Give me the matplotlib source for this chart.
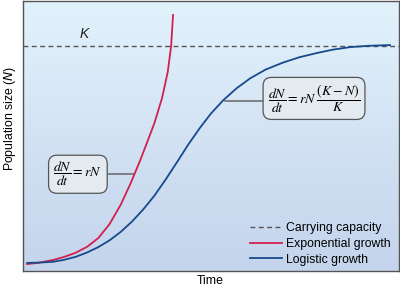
import numpy as np
import matplotlib
matplotlib.use('Agg')
from matplotlib import pyplot as plt
from matplotlib.colors import LinearSegmentedColormap

# values (time 0-100, population 0-120, K = 100)
K = 100
exp_t = [1.1, 4, 8, 11, 14, 17, 20, 23, 26, 28.5, 31, 33.2, 35, 37, 38.5, 39.4, 39.9]
exp_n = [3.1, 3.6, 4.9, 6.3, 8.1, 10.7, 14.6, 20.8, 29.5, 38.5, 48.5, 58.0, 66.0, 77.0, 88.5, 100.0, 113.8]

log_t = [1.1, 5, 8, 11, 14, 17, 20, 23, 26, 29, 32, 35, 38, 41, 44, 47, 50,
         53.2, 56.8, 60.4, 64.5, 69.1, 73.5, 78.2, 82.5, 87, 92, 97.6]
log_n = [3.6, 3.8, 4.1, 5.0, 6.3, 8.2, 10.6, 13.6, 17.4, 22.0, 27.4, 33.6, 40.8, 48.5, 56.3, 63.5, 70.0,
         75.8, 81.2, 85.6, 89.5, 92.6, 95.0, 96.9, 98.4, 99.5, 100.1, 100.4]

legend_labels = ['Carrying capacity', 'Exponential growth', 'Logistic growth']

plt.rcParams['font.family'] = ['Liberation Sans', 'DejaVu Sans']
plt.rcParams['mathtext.fontset'] = 'stix'

red = '#d21f4c'
blue = '#174a8c'
grey = '#555555'
fs = 8.8

fig = plt.figure(figsize=(4, 2.92), dpi=100)
ax = fig.add_axes([0.0575, 0.0719, 0.94, 0.9247])
ax.set_xlim(0, 100)
ax.set_ylim(0, 120)

# gradient background
cmap = LinearSegmentedColormap.from_list('bg', ['#c4d4ec', '#e2f2fc'])
grad = np.linspace(0, 1, 256).reshape(-1, 1)
ax.imshow(grad, extent=[0, 100, 0, 120], origin='lower', aspect='auto', cmap=cmap, zorder=0)

ax.axhline(K, color=grey, lw=1, ls=(0, (3.5, 2.5)), zorder=2, label=legend_labels[0])
ax.plot(exp_t, exp_n, color=red, lw=1.3, zorder=3, label=legend_labels[1], solid_joinstyle='round')
ax.plot(log_t, log_n, color=blue, lw=1.3, zorder=3, label=legend_labels[2], solid_joinstyle='round')

ax.text(16.2, 105.5, 'K', fontsize=10, style='italic', ha='center', va='center', color='#222222')

# connector lines + equation boxes
ax.plot([22.6, 29.6], [43.1, 43.1], color='#666666', lw=1.1, zorder=2)
ax.plot([53.7, 63.8], [75.6, 75.6], color='#666666', lw=1.1, zorder=2)

box = dict(boxstyle='round,pad=0.35,rounding_size=0.6', fc='#e3ebf0', ec='#555555', lw=0.9)
ax.text(14.6, 43.0, r'$\dfrac{dN}{dt} = rN$', fontsize=10, ha='center', va='center',
        bbox=box, zorder=4)
ax.text(77.4, 76.7, r'$\dfrac{dN}{dt} = rN\;\dfrac{(K-N)}{K}$', fontsize=10, ha='center', va='center',
        bbox=box, zorder=4)

leg = ax.legend(loc='upper left', bbox_to_anchor=(0.604, 0.18), frameon=False, fontsize=fs,
                handlelength=2.6, handletextpad=0.3, labelspacing=0.3, borderpad=0, borderaxespad=0)

for s in ax.spines.values():
    s.set_color(grey)
    s.set_linewidth(1)
ax.set_xticks([])
ax.set_yticks([])

fig.text(210 / 400, 1 - 281 / 292, 'Time', fontsize=fs, ha='center', va='center')
fig.text(10 / 400, 1 - 118 / 292, 'Population size ($N$)', fontsize=fs, rotation=90,
         ha='center', va='center', math_fontfamily='dejavusans')

fig.savefig('out.png', dpi=100)
